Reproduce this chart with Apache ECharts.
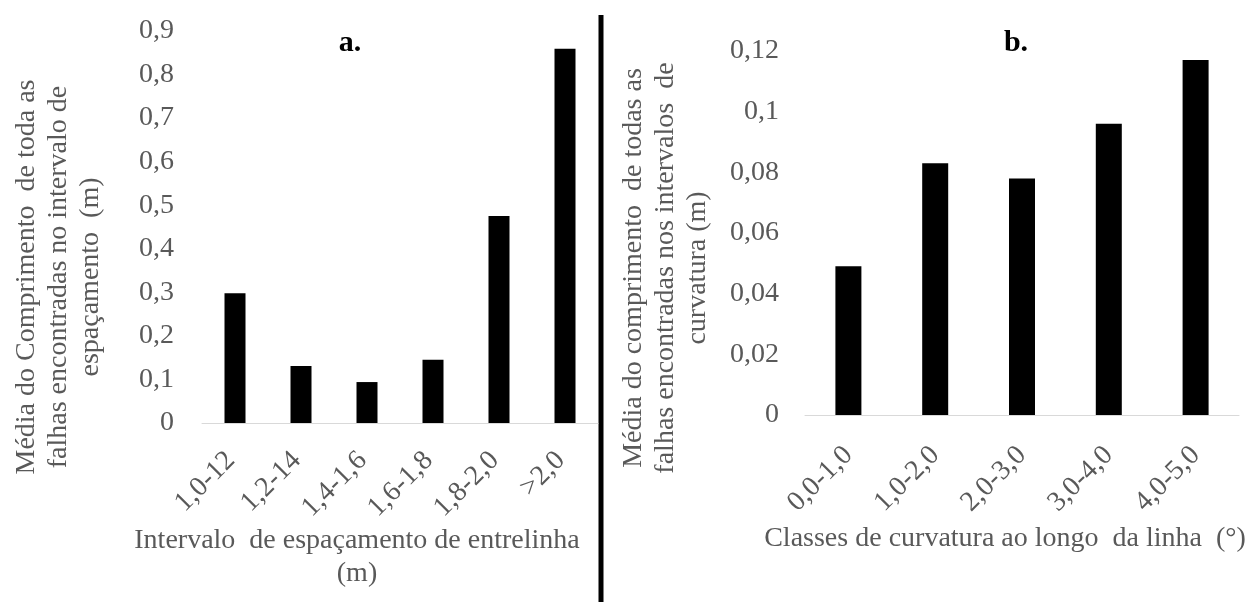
<!DOCTYPE html>
<html>
<head>
<meta charset="utf-8">
<script src="https://cdn.jsdelivr.net/npm/echarts@6/dist/echarts.min.js"></script>
<style>
  html, body { margin: 0; padding: 0; background: #ffffff; }
  #chart { width: 1253px; height: 602px; }
</style>
</head>
<body>
<div id="chart"></div>
<script>
// Panel a: mean gap length by inter-row spacing interval
const spacingClasses = ['1,0-12', '1,2-14', '1,4-1,6', '1,6-1,8', '1,8-2,0', '>2,0'];
const spacingGapLength = [0.298, 0.131, 0.094, 0.145, 0.475, 0.859];
const spacingTicks = ['0', '0,1', '0,2', '0,3', '0,4', '0,5', '0,6', '0,7', '0,8', '0,9'];

// Panel b: mean gap length by curvature class along the row
const curvatureClasses = ['0,0-1,0', '1,0-2,0', '2,0-3,0', '3,0-4,0', '4,0-5,0'];
const curvatureGapLength = [0.049, 0.083, 0.078, 0.096, 0.117];
const curvatureTicks = ['0', '0,02', '0,04', '0,06', '0,08', '0,1', '0,12'];

const FONT = "'Liberation Serif', 'Times New Roman', serif";
const GREY = '#595959';

const chart = echarts.init(document.getElementById('chart'));

function valueAxis(gridIndex, max, interval, ticks, name, gap, shift, margin) {
  return {
    type: 'value',
    gridIndex: gridIndex,
    min: 0,
    max: max,
    interval: interval,
    splitLine: { show: false },
    axisLine: { show: false },
    axisTick: { show: false },
    axisLabel: {
      color: GREY,
      fontFamily: FONT,
      fontSize: 28,
      margin: margin,
      formatter: function (v) { return ticks[Math.round(v / interval)]; }
    },
    name: name,
    nameLocation: 'middle',
    nameGap: gap,
    nameMoveOverlap: false,
    nameTextStyle: {
      color: GREY,
      fontFamily: FONT,
      fontSize: 28,
      lineHeight: 32,
      padding: [0, shift, 0, 0]
    }
  };
}

function categoryAxis(gridIndex, data, name, gap, shift, labelMargin, labelPad) {
  return {
    type: 'category',
    gridIndex: gridIndex,
    data: data,
    axisLine: { lineStyle: { color: '#d9d9d9', width: 1 } },
    axisTick: { show: false },
    axisLabel: {
      color: GREY,
      fontFamily: FONT,
      fontSize: 28,
      rotate: 45,
      margin: labelMargin,
      padding: [0, labelPad, 0, 0],
      interval: 0
    },
    name: name,
    nameLocation: 'middle',
    nameGap: gap,
    nameMoveOverlap: false,
    nameTextStyle: {
      color: GREY,
      fontFamily: FONT,
      fontSize: 28,
      lineHeight: 33,
      padding: [0, shift, 0, 0]
    }
  };
}

chart.setOption({
  backgroundColor: '#ffffff',
  animation: false,
  grid: [
    { left: 202, top: 31, width: 396, height: 392, outerBoundsMode: 'none', containLabel: false },
    { left: 805, top: 51, width: 434, height: 364, outerBoundsMode: 'none', containLabel: false }
  ],
  xAxis: [
    categoryAxis(0, spacingClasses, 'Intervalo  de espaçamento de entrelinha\n(m)', 101, 86, 29, 6),
    categoryAxis(1, curvatureClasses, 'Classes de curvatura ao longo  da linha  (°)', 107, 34, 36, 0)
  ],
  yAxis: [
    valueAxis(0, 0.9, 0.1, spacingTicks,
      'Média do Comprimento  de toda as\nfalhas encontradas no intervalo de\nespaçamento  (m)', 95, 100, 28),
    valueAxis(1, 0.12, 0.02, curvatureTicks,
      'Média do comprimento  de todas as\nfalhas encontradas nos intervalos  de\ncurvatura (m)', 91, 70, 26)
  ],
  series: [
    {
      type: 'bar',
      xAxisIndex: 0,
      yAxisIndex: 0,
      data: spacingGapLength,
      barWidth: 21,
      itemStyle: { color: '#000000' }
    },
    {
      type: 'bar',
      xAxisIndex: 1,
      yAxisIndex: 1,
      data: curvatureGapLength,
      barWidth: 26,
      itemStyle: { color: '#000000' }
    }
  ],
  graphic: [
    {
      type: 'line',
      shape: { x1: 601, y1: 15, x2: 601, y2: 602 },
      style: { stroke: '#000000', lineWidth: 5 }
    },
    {
      type: 'text',
      x: 350, y: 43,
      style: {
        text: 'a.', fill: '#000000', font: 'bold 30px ' + FONT,
        align: 'center', verticalAlign: 'middle'
      }
    },
    {
      type: 'text',
      x: 1016, y: 43,
      style: {
        text: 'b.', fill: '#000000', font: 'bold 30px ' + FONT,
        align: 'center', verticalAlign: 'middle'
      }
    }
  ]
});
</script>
</body>
</html>
